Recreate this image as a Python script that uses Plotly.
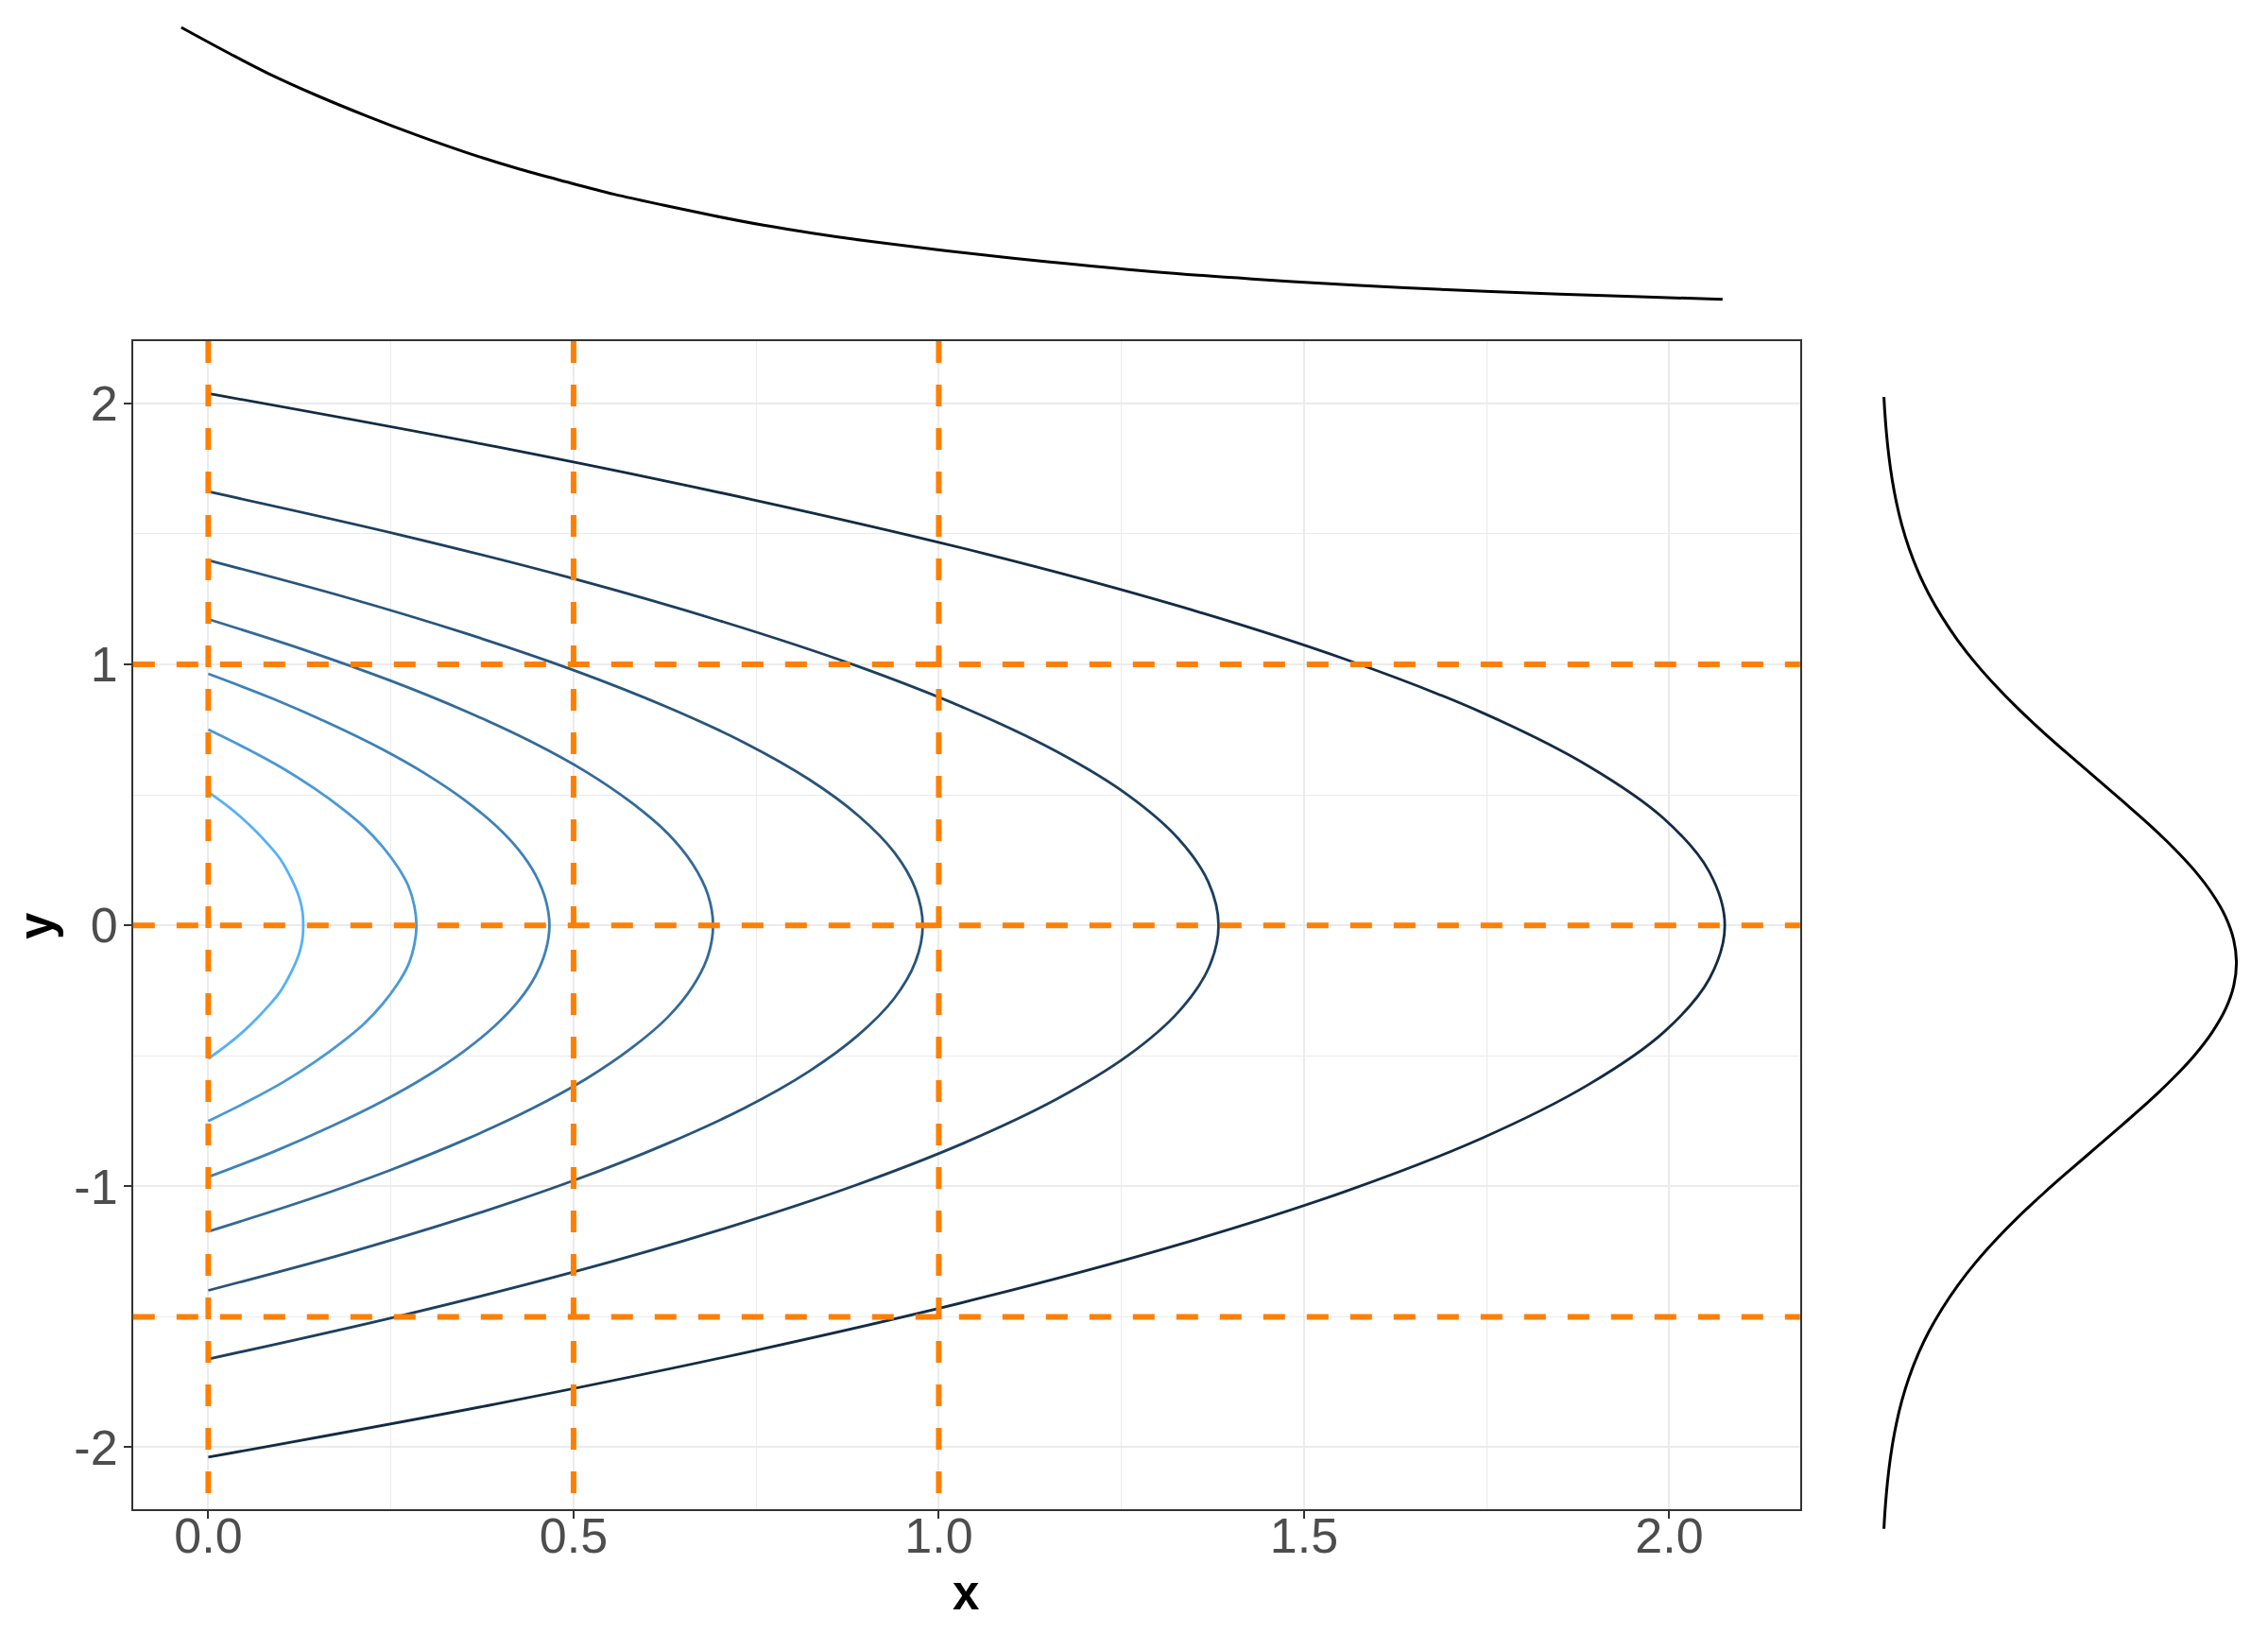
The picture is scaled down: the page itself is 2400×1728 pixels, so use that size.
import plotly.graph_objects as go

# ---------------- data ----------------
contour_levels = [0.125, 0.25, 0.375, 0.5, 0.625, 0.75, 0.875]
contour_x = [
    [0, 0.394, 0.747, 1.059, 1.329, 1.557, 1.744, 1.889, 1.993, 2.055, 2.076,
     2.055, 1.993, 1.889, 1.744, 1.557, 1.329, 1.059, 0.747, 0.394, 0],
    [0, 0.263, 0.498, 0.705, 0.885, 1.037, 1.162, 1.259, 1.328, 1.369, 1.383,
     1.369, 1.328, 1.259, 1.162, 1.037, 0.885, 0.705, 0.498, 0.263, 0],
    [0, 0.186, 0.352, 0.499, 0.626, 0.734, 0.822, 0.890, 0.939, 0.968, 0.978,
     0.968, 0.939, 0.890, 0.822, 0.734, 0.626, 0.499, 0.352, 0.186, 0],
    [0, 0.131, 0.249, 0.352, 0.442, 0.518, 0.580, 0.629, 0.663, 0.684, 0.691,
     0.684, 0.663, 0.629, 0.580, 0.518, 0.442, 0.352, 0.249, 0.131, 0],
    [0, 0.089, 0.168, 0.238, 0.299, 0.350, 0.392, 0.425, 0.448, 0.462, 0.467,
     0.462, 0.448, 0.425, 0.392, 0.350, 0.299, 0.238, 0.168, 0.089, 0],
    [0, 0.054, 0.103, 0.145, 0.182, 0.214, 0.239, 0.259, 0.274, 0.282, 0.285,
     0.282, 0.274, 0.259, 0.239, 0.214, 0.182, 0.145, 0.103, 0.054, 0],
    [0, 0.025, 0.047, 0.066, 0.083, 0.098, 0.109, 0.118, 0.125, 0.129, 0.130,
     0.129, 0.125, 0.118, 0.109, 0.098, 0.083, 0.066, 0.047, 0.025, 0],
]
contour_y = [
    [2.038, 1.834, 1.630, 1.427, 1.223, 1.019, 0.815, 0.611, 0.408, 0.204, 0,
     -0.204, -0.408, -0.611, -0.815, -1.019, -1.223, -1.427, -1.630, -1.834, -2.038],
    [1.662, 1.496, 1.330, 1.163, 0.997, 0.831, 0.665, 0.499, 0.332, 0.166, 0,
     -0.166, -0.332, -0.499, -0.665, -0.831, -0.997, -1.163, -1.330, -1.496, -1.662],
    [1.399, 1.259, 1.119, 0.979, 0.839, 0.700, 0.560, 0.420, 0.280, 0.140, 0,
     -0.140, -0.280, -0.420, -0.560, -0.700, -0.839, -0.979, -1.119, -1.259, -1.399],
    [1.173, 1.056, 0.938, 0.821, 0.704, 0.587, 0.469, 0.352, 0.235, 0.117, 0,
     -0.117, -0.235, -0.352, -0.469, -0.587, -0.704, -0.821, -0.938, -1.056, -1.173],
    [0.964, 0.868, 0.771, 0.675, 0.578, 0.482, 0.386, 0.289, 0.193, 0.096, 0,
     -0.096, -0.193, -0.289, -0.386, -0.482, -0.578, -0.675, -0.771, -0.868, -0.964],
    [0.750, 0.675, 0.600, 0.525, 0.450, 0.375, 0.300, 0.225, 0.150, 0.075, 0,
     -0.075, -0.150, -0.225, -0.300, -0.375, -0.450, -0.525, -0.600, -0.675, -0.750],
    [0.511, 0.460, 0.409, 0.358, 0.307, 0.256, 0.204, 0.153, 0.102, 0.051, 0,
     -0.051, -0.102, -0.153, -0.204, -0.256, -0.307, -0.358, -0.409, -0.460, -0.511],
]

# reference lines
vline_x = [0, 0.5, 1]
hline_y = [1, 0, -1.5]

# top marginal (density of x)
top_x = [-0.037, 0.030, 0.083, 0.150, 0.218, 0.286, 0.354, 0.421, 0.489, 0.556,
         0.624, 0.692, 0.760, 0.827, 0.895, 1.009, 1.149, 1.289, 1.429, 1.569,
         1.710, 1.850, 1.960, 2.073]
top_density = [1.500, 1.360, 1.255, 1.138, 1.030, 0.930, 0.838, 0.757, 0.685, 0.618,
               0.560, 0.505, 0.455, 0.413, 0.375, 0.320, 0.262, 0.211, 0.171, 0.138,
               0.112, 0.091, 0.077, 0.063]

# right marginal (density of y)
right_y = [-3.07, -3.0, -2.875, -2.75, -2.625, -2.5, -2.375, -2.25, -2.125, -2.0,
           -1.875, -1.75, -1.625, -1.5, -1.375, -1.25, -1.125, -1.0, -0.875, -0.75,
           -0.625, -0.5, -0.375, -0.25, -0.125, 0, 0.125, 0.25, 0.375, 0.5, 0.625,
           0.75, 0.875, 1.0, 1.125, 1.25, 1.375, 1.5, 1.625, 1.75, 1.875, 2.0,
           2.125, 2.25, 2.375, 2.5, 2.625, 2.75, 2.875, 3.0, 3.07]
right_density = [0.0036, 0.0044, 0.0064, 0.0091, 0.0127, 0.0175, 0.0237, 0.0317, 0.0417,
                 0.0540, 0.0689, 0.0863, 0.1065, 0.1295, 0.1549, 0.1826, 0.2119, 0.2420,
                 0.2718, 0.3011, 0.3281, 0.3521, 0.3718, 0.3867, 0.3958, 0.3989, 0.3958,
                 0.3867, 0.3718, 0.3521, 0.3281, 0.3011, 0.2718, 0.2420, 0.2119, 0.1826,
                 0.1549, 0.1295, 0.1065, 0.0863, 0.0689, 0.0540, 0.0417, 0.0317, 0.0237,
                 0.0175, 0.0127, 0.0091, 0.0064, 0.0044, 0.0036]

x_ticks = [0, 0.5, 1, 1.5, 2]
x_ticktext = ["0.0", "0.5", "1.0", "1.5", "2.0"]
y_ticks = [-2, -1, 0, 1, 2]
y_ticktext = ["-2", "-1", "0", "1", "2"]

# ---------------- colour scale (Lab interpolation, like ggplot) ----------------
LOW, HIGH = "#132B43", "#56B1F7"


def _hex2rgb(h):
    h = h.lstrip("#")
    return [int(h[i:i + 2], 16) / 255 for i in (0, 2, 4)]


def _lin(c):
    return c / 12.92 if c <= 0.04045 else ((c + 0.055) / 1.055) ** 2.4


def _gam(c):
    c = max(0.0, min(1.0, c))
    return 12.92 * c if c <= 0.0031308 else 1.055 * c ** (1 / 2.4) - 0.055


WHITE = (0.95047, 1.0, 1.08883)


def _f(t):
    return t ** (1 / 3) if t > 0.008856 else 7.787 * t + 16 / 116


def _finv(t):
    return t ** 3 if t ** 3 > 0.008856 else (t - 16 / 116) / 7.787


def rgb2lab(rgb):
    r, g, b = [_lin(c) for c in rgb]
    X = 0.4124 * r + 0.3576 * g + 0.1805 * b
    Y = 0.2126 * r + 0.7152 * g + 0.0722 * b
    Z = 0.0193 * r + 0.1192 * g + 0.9505 * b
    fx, fy, fz = _f(X / WHITE[0]), _f(Y / WHITE[1]), _f(Z / WHITE[2])
    return (116 * fy - 16, 500 * (fx - fy), 200 * (fy - fz))


def lab2hex(lab):
    L, a, b = lab
    fy = (L + 16) / 116
    fx = fy + a / 500
    fz = fy - b / 200
    X, Y, Z = WHITE[0] * _finv(fx), WHITE[1] * _finv(fy), WHITE[2] * _finv(fz)
    r = 3.2406 * X - 1.5372 * Y - 0.4986 * Z
    g = -0.9689 * X + 1.8758 * Y + 0.0415 * Z
    bb = 0.0557 * X - 0.2040 * Y + 1.0570 * Z
    return "#%02X%02X%02X" % tuple(int(round(_gam(c) * 255)) for c in (r, g, bb))


lab_lo, lab_hi = rgb2lab(_hex2rgb(LOW)), rgb2lab(_hex2rgb(HIGH))
lmin, lmax = min(contour_levels), max(contour_levels)


def level_colour(v):
    t = (v - lmin) / (lmax - lmin)
    return lab2hex(tuple(lo + t * (hi - lo) for lo, hi in zip(lab_lo, lab_hi)))


# ---------------- figure ----------------
W, H = 2400, 1728
fig = go.Figure()

for lev, xs, ys in zip(contour_levels, contour_x, contour_y):
    fig.add_trace(go.Scatter(
        x=xs, y=ys, mode="lines",
        line=dict(color=level_colour(lev), width=2.8, shape="spline", simplify=False),
        xaxis="x", yaxis="y", showlegend=False, hoverinfo="skip"))

fig.add_trace(go.Scatter(
    x=top_x, y=top_density, mode="lines",
    line=dict(color="black", width=3, shape="spline", simplify=False),
    xaxis="x2", yaxis="y2", showlegend=False, hoverinfo="skip"))

fig.add_trace(go.Scatter(
    x=right_density, y=right_y, mode="lines",
    line=dict(color="black", width=3, shape="spline", simplify=False),
    xaxis="x3", yaxis="y3", showlegend=False, hoverinfo="skip"))

ORANGE = "#FF7F00"
DASH = "23px,23px"
shapes = []
for v in vline_x:
    shapes.append(dict(type="line", xref="x", yref="y domain", x0=v, x1=v, y0=1, y1=0,
                       line=dict(color=ORANGE, width=6, dash=DASH), layer="above"))
for v in hline_y:
    shapes.append(dict(type="line", xref="x domain", yref="y", x0=0, x1=1, y0=v, y1=v,
                       line=dict(color=ORANGE, width=6, dash=DASH), layer="above"))


def px_x(p):
    return p / W


def px_y(p):
    return 1 - p / H


FONT = "Liberation Sans, Arial, Helvetica, sans-serif"
GRID = "#EBEBEB"
axis_common = dict(
    showline=True, mirror=True, linecolor="#333333", linewidth=1.6,
    ticks="outside", ticklen=8, tickwidth=2, tickcolor="#333333",
    tickfont=dict(family=FONT, size=52, color="#4D4D4D"),
    showgrid=True, gridcolor=GRID, gridwidth=2.4, zeroline=False,
)

fig.update_layout(
    width=W, height=H,
    margin=dict(l=0, r=0, t=0, b=0),
    paper_bgcolor="white", plot_bgcolor="white",
    font=dict(family=FONT),
    shapes=shapes,
    xaxis=dict(domain=[px_x(140.8), px_x(1904.8)], range=[-0.103, 2.179],
               tickmode="array", tickvals=x_ticks, ticktext=x_ticktext,
               ticklabelstandoff=-26,
               minor=dict(tick0=0, dtick=0.25, showgrid=True, gridcolor=GRID, gridwidth=1.3, ticks=""),
               **axis_common),
    yaxis=dict(domain=[px_y(1596.9), px_y(360.9)], range=[-2.237, 2.239],
               tickmode="array", tickvals=y_ticks, ticktext=y_ticktext,
               ticklabelstandoff=-4,
               minor=dict(tick0=0, dtick=0.5, showgrid=True, gridcolor=GRID, gridwidth=1.3, ticks=""),
               **axis_common),
    xaxis2=dict(domain=[px_x(140.8), px_x(1904.8)], range=[-0.103, 2.179], visible=False,
                anchor="y2"),
    yaxis2=dict(domain=[px_y(330), px_y(15)], range=[-0.0029, 1.5699], visible=False,
                anchor="x2"),
    xaxis3=dict(domain=[px_x(1980), px_x(2380)], range=[-0.0108, 0.4131], visible=False,
                anchor="y3"),
    yaxis3=dict(domain=[px_y(1633), px_y(405)], range=[-3.148, 3.147], visible=False,
                anchor="x3"),
    annotations=[
        dict(text="<b>x</b>", xref="paper", yref="paper", x=px_x(1022.3), y=px_y(1685),
             xanchor="center", yanchor="middle", showarrow=False,
             font=dict(family=FONT, size=51, color="black")),
        dict(text="<b>y</b>", xref="paper", yref="paper", x=px_x(38), y=px_y(980),
             xanchor="center", yanchor="middle", showarrow=False, textangle=-90,
             font=dict(family=FONT, size=51, color="black")),
    ],
)

fig.write_html("out.html", config={"displayModeBar": False},
               post_script="document.body.style.margin='0px';document.body.style.padding='0px';")
